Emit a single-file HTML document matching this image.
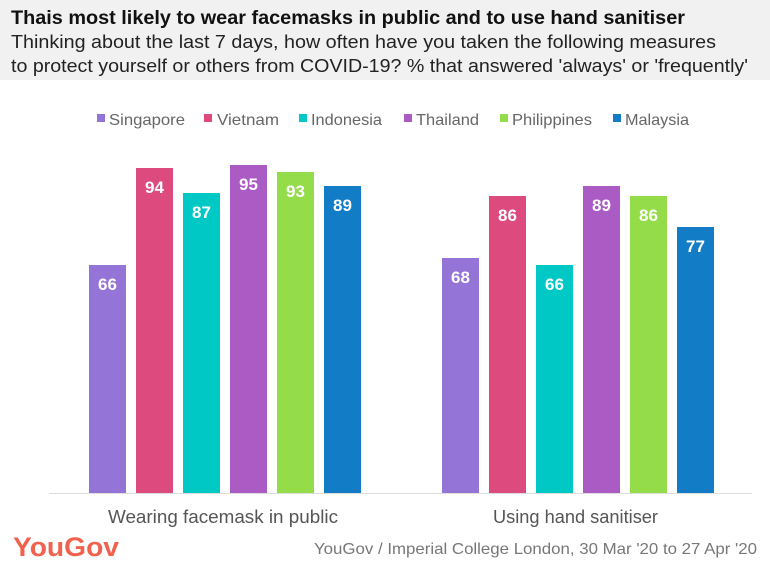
<!DOCTYPE html>
<html><head><meta charset="utf-8"><style>
body{margin:0;width:770px;height:566px;background:#fff;overflow:hidden}
text{font-family:"Liberation Sans",sans-serif}
</style></head><body>
<svg width="770" height="566" xmlns="http://www.w3.org/2000/svg">
<rect x="0" y="0" width="770" height="80" fill="#f1f1f1"/>
<text x="11" y="24" font-size="19" font-weight="bold" fill="#111" textLength="674" lengthAdjust="spacingAndGlyphs">Thais most likely to wear facemasks in public and to use hand sanitiser</text>
<text x="11" y="48" font-size="18" fill="#222" textLength="705" lengthAdjust="spacingAndGlyphs">Thinking about the last 7 days, how often have you taken the following measures</text>
<text x="11" y="72" font-size="18" fill="#222" textLength="737" lengthAdjust="spacingAndGlyphs">to protect yourself or others from COVID-19? % that answered 'always' or 'frequently'</text>
<g font-size="16" fill="#666">
<rect x="97" y="114" width="8" height="8" fill="#9474d6"/><text x="109" y="125" textLength="76" lengthAdjust="spacingAndGlyphs">Singapore</text>
<rect x="204" y="114" width="8" height="8" fill="#dd4a7e"/><text x="217" y="125" textLength="62" lengthAdjust="spacingAndGlyphs">Vietnam</text>
<rect x="299" y="114" width="8" height="8" fill="#00c8c5"/><text x="311" y="125" textLength="71" lengthAdjust="spacingAndGlyphs">Indonesia</text>
<rect x="404" y="114" width="8" height="8" fill="#ab5bc4"/><text x="416" y="125" textLength="63" lengthAdjust="spacingAndGlyphs">Thailand</text>
<rect x="500" y="114" width="8" height="8" fill="#95dc4a"/><text x="512" y="125" textLength="80" lengthAdjust="spacingAndGlyphs">Philippines</text>
<rect x="613" y="114" width="8" height="8" fill="#127cc6"/><text x="625" y="125" textLength="64" lengthAdjust="spacingAndGlyphs">Malaysia</text>
</g>
<g font-size="17" font-weight="bold" fill="#fff" text-anchor="middle">
<rect x="89" y="265" width="37" height="228" fill="#9474d6"/><text x="107.5" y="290">66</text>
<rect x="136" y="168" width="37" height="325" fill="#dd4a7e"/><text x="154.5" y="193">94</text>
<rect x="183" y="193" width="37" height="300" fill="#00c8c5"/><text x="201.5" y="218">87</text>
<rect x="230" y="165" width="37" height="328" fill="#ab5bc4"/><text x="248.5" y="190">95</text>
<rect x="277" y="172" width="37" height="321" fill="#95dc4a"/><text x="295.5" y="197">93</text>
<rect x="324" y="186" width="37" height="307" fill="#127cc6"/><text x="342.5" y="211">89</text>
<rect x="442" y="258" width="37" height="235" fill="#9474d6"/><text x="460.5" y="283">68</text>
<rect x="489" y="196" width="37" height="297" fill="#dd4a7e"/><text x="507.5" y="221">86</text>
<rect x="536" y="265" width="37" height="228" fill="#00c8c5"/><text x="554.5" y="290">66</text>
<rect x="583" y="186" width="37" height="307" fill="#ab5bc4"/><text x="601.5" y="211">89</text>
<rect x="630" y="196" width="37" height="297" fill="#95dc4a"/><text x="648.5" y="221">86</text>
<rect x="677" y="227" width="37" height="266" fill="#127cc6"/><text x="695.5" y="252">77</text>
</g>
<line x1="49" y1="493.5" x2="752" y2="493.5" stroke="#ddd" stroke-width="1"/>
<g font-size="18" fill="#555">
<text x="108" y="523" textLength="230" lengthAdjust="spacingAndGlyphs">Wearing facemask in public</text>
<text x="493" y="523" textLength="165" lengthAdjust="spacingAndGlyphs">Using hand sanitiser</text>
</g>
<text x="13" y="556" font-size="27" font-weight="bold" fill="#f0624d" textLength="106" lengthAdjust="spacingAndGlyphs">YouGov</text>
<text x="314" y="554" font-size="16" fill="#777" textLength="443" lengthAdjust="spacingAndGlyphs">YouGov / Imperial College London, 30 Mar '20 to 27 Apr '20</text>
</svg>
</body></html>
